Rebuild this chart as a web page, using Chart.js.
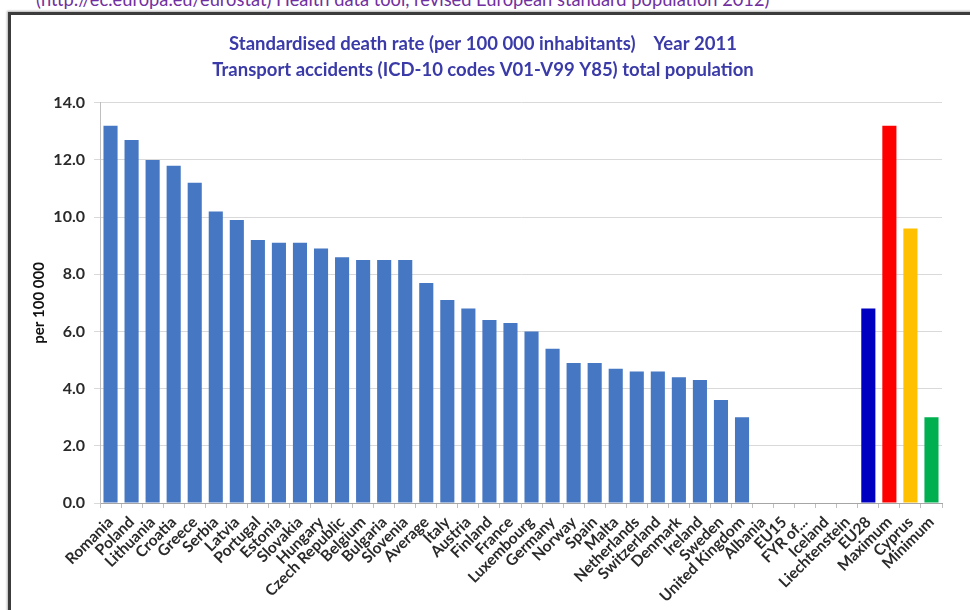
<!DOCTYPE html>
<html>
<head>
<meta charset="utf-8">
<script src="https://cdn.jsdelivr.net/npm/chart.js@4"></script>
<style>
  html, body { margin: 0; padding: 0; background: #fff; width: 970px; height: 610px; overflow: hidden; }
  #src { position: absolute; left: 36px; top: -12px; font: 18.3px Lato, "Open Sans", sans-serif; color: #7030a0; white-space: nowrap; }
  #box { position: absolute; left: 8px; top: 12px; width: 1000px; height: 700px; border-left: 3px solid #3c3c3c; border-top: 3px solid #3c3c3c; box-shadow: -1px -1px 2px rgba(0,0,0,0.3); background: #fff; }
  #wrap { position: absolute; left: 0; top: 0; width: 970px; height: 610px; }
</style>
</head>
<body>
<div id="src">(http://ec.europa.eu/eurostat) Health data tool, revised European standard population 2012)</div>
<div id="box"></div>
<div id="wrap"><canvas id="c" width="970" height="610"></canvas></div>
<script>
const categories = ["Romania","Poland","Lithuania","Croatia","Greece","Serbia","Latvia","Portugal","Estonia","Slovakia","Hungary","Czech Republic","Belgium","Bulgaria","Slovenia","Average","Italy","Austria","Finland","France","Luxembourg","Germany","Norway","Spain","Malta","Netherlands","Switzerland","Denmark","Ireland","Sweden","United Kingdom","Albania","EU15","FYR of...","Iceland","Liechtenstein","EU28","Maximum","Cyprus","Minimum"];
const deathRate = [13.2,12.7,12.0,11.8,11.2,10.2,9.9,9.2,9.1,9.1,8.9,8.6,8.5,8.5,8.5,7.7,7.1,6.8,6.4,6.3,6.0,5.4,4.9,4.9,4.7,4.6,4.6,4.4,4.3,3.6,3.0,null,null,null,null,null,6.8,13.2,9.6,3.0];
const yTicks = [0,2,4,6,8,10,12,14];
const yTickLabels = ["0.0","2.0","4.0","6.0","8.0","10.0","12.0","14.0"];

const defaultColor = "#4677c2";
const highlightColors = { "EU28": "#0000c0", "Maximum": "#ff0000", "Cyprus": "#ffc000", "Minimum": "#00b050" };
const barColors = categories.map(c => highlightColors[c] || defaultColor);

const FONT = "Lato, 'Open Sans', sans-serif";

new Chart(document.getElementById("c"), {
  type: "bar",
  data: {
    labels: categories,
    datasets: [{ data: deathRate, backgroundColor: barColors, borderWidth: 0, barPercentage: 0.67, categoryPercentage: 1.0 }]
  },
  options: {
    responsive: false,
    animation: false,
    layout: { padding: { left: 24, right: 28, top: 0, bottom: 0 } },
    plugins: {
      legend: { display: false },
      tooltip: { enabled: false },
      title: {
        display: true,
        text: ["Standardised death rate (per 100 000 inhabitants)    Year 2011", "Transport accidents (ICD-10 codes V01-V99 Y85) total population"],
        color: "#3a3aa8",
        font: { family: FONT, size: 18.5, weight: "bold", lineHeight: 1.4 },
        padding: { top: 31, bottom: 20 }
      }
    },
    scales: {
      x: {
        grid: { display: true, drawOnChartArea: false, drawTicks: true, tickLength: 5, color: "#bfbfbf", offset: true },
        border: { display: true, color: "#a6a6a6" },
        ticks: {
          autoSkip: false, maxRotation: 45, minRotation: 45, padding: 5,
          color: "#2a2a2a",
          font: { family: FONT, size: 15.5, weight: "bold" }
        },
        afterFit: s => { s.height = 107; }
      },
      y: {
        min: 0, max: 14,
        afterBuildTicks: s => { s.ticks = yTicks.map(v => ({ value: v })); },
        grid: { color: "#d9d9d9", tickLength: 6, drawTicks: true },
        border: { display: true, color: "#bfbfbf" },
        ticks: {
          padding: 9,
          color: "#2a2a2a",
          font: { family: FONT, size: 16, weight: "bold" },
          callback: (v) => yTickLabels[yTicks.indexOf(v)]
        },
        title: {
          display: true, text: "per 100 000", color: "#111",
          font: { family: FONT, size: 15, weight: "bold" },
          padding: { top: 6, bottom: 0 }
        },
        afterFit: s => { s.width = 76; }
      }
    }
  }
});
</script>
</body>
</html>
